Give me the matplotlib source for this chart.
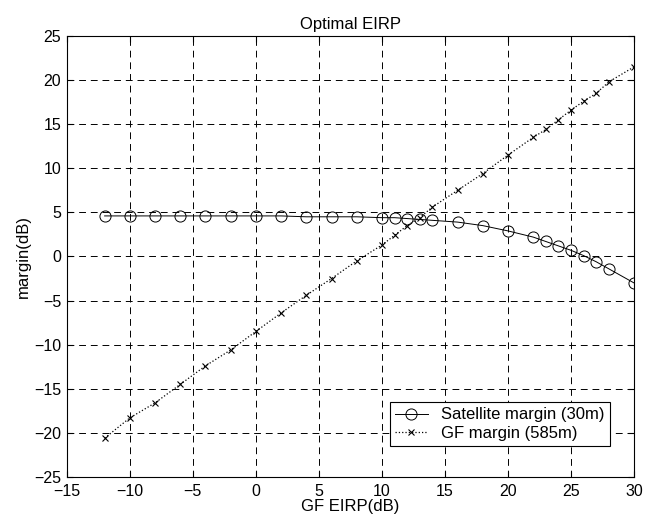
import numpy as np
import matplotlib
matplotlib.use('Agg')
import matplotlib.pyplot as plt

plt.rcParams['font.family'] = ['Liberation Sans', 'DejaVu Sans']

# GF EIRP (dB) sample points
eirp = [-12, -10, -8, -6, -4, -2, 0, 2, 4, 6, 8, 10, 11, 12, 13, 14,
        16, 18, 20, 22, 23, 24, 25, 26, 27, 28, 30]
sat_margin = [4.6, 4.6, 4.6, 4.6, 4.6, 4.6, 4.6, 4.6, 4.5, 4.5, 4.5, 4.4, 4.4, 4.3, 4.2, 4.1,
              3.9, 3.5, 2.9, 2.2, 1.7, 1.2, 0.7, 0.1, -0.6, -1.4, -3.0]
gf_margin = [-20.6, -18.3, -16.6, -14.5, -12.4, -10.6, -8.5, -6.4, -4.4, -2.5, -0.5, 1.3, 2.4, 3.5, 4.4, 5.6,
             7.5, 9.4, 11.5, 13.5, 14.4, 15.5, 16.6, 17.6, 18.5, 19.8, 21.5]

xticks = np.arange(-15, 31, 5)
yticks = np.arange(-25, 26, 5)

fig = plt.figure(figsize=(6.55, 5.18), dpi=100)
ax = fig.add_axes([0.102, 0.0792, 0.866, 0.8513])

ax.plot(eirp, sat_margin, color='black', linestyle='-', linewidth=0.7,
        marker='o', markersize=8, markerfacecolor='none', markeredgewidth=0.7,
        label='Satellite margin (30m)')
ax.plot(eirp, gf_margin, color='black', linestyle=':', linewidth=0.9,
        marker='x', markersize=4, markeredgewidth=0.8,
        label='GF margin (585m)')

ax.set_xlim(-15, 30)
ax.set_ylim(-25, 25)
ax.set_xticks(xticks)
ax.set_yticks(yticks)
ax.tick_params(direction='in', labelsize=11.5, top=True, right=True, length=4)
ax.tick_params(axis='x', pad=5)
ax.tick_params(axis='y', pad=4)
ax.grid(True, color='black', linestyle=(0, (7, 5)), linewidth=0.7)

ax.set_title('Optimal EIRP', fontsize=12, pad=5)
ax.set_xlabel('GF EIRP(dB)', fontsize=12, labelpad=0)
ax.set_ylabel('margin(dB)', fontsize=12, labelpad=2)

leg = ax.legend(loc='lower right', bbox_to_anchor=(0.972, 0.052), fontsize=12,
                fancybox=False, edgecolor='black', framealpha=1,
                borderpad=0.3, handlelength=2.0, labelspacing=0.2)
leg.get_frame().set_linewidth(0.8)

fig.savefig('out.png', dpi=100)
